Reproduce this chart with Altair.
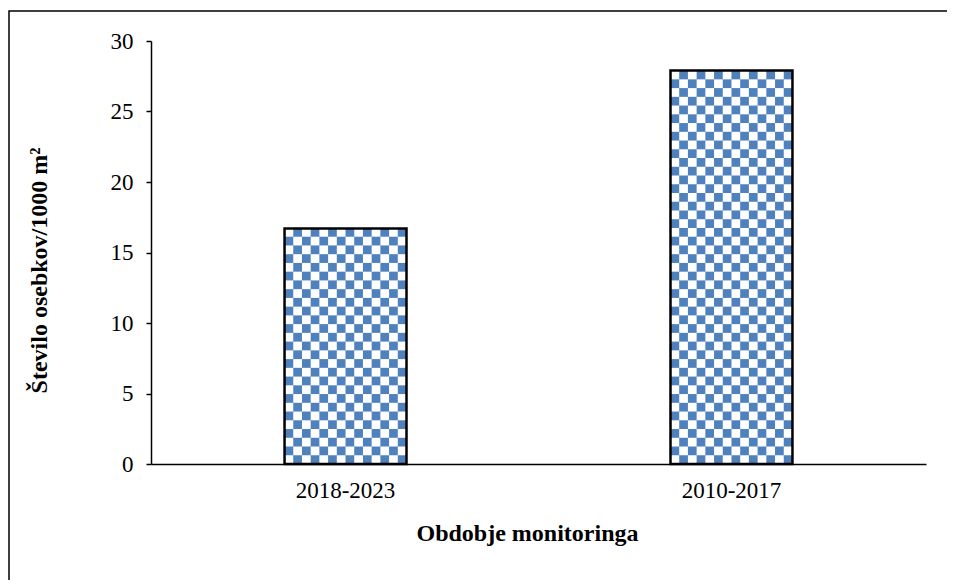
import math
import altair as alt
import pandas as pd

# ---- data ----
categories = ["2018-2023", "2010-2017"]
values = [16.7, 27.9]
y_ticks = [0, 5, 10, 15, 20, 25, 30]

x_title = "Obdobje monitoringa"
y_title = "Število osebkov/1000 m²"

FONT = "Liberation Serif"
BLUE = "#4F81BD"

bars = pd.DataFrame({"obdobje": categories, "stevilo": values})

# checkerboard fill pattern (white squares over the blue bar)
n_cols = 14
cell_h = 0.62
cell_rows = []
for cat, v in zip(categories, values):
    nrows = int(math.ceil(v / cell_h))
    for r in range(nrows):
        for c in range(n_cols):
            if (r + c) % 2 == 0:
                cell_rows.append({
                    "obdobje": cat,
                    "col": c,
                    "stevilo": r * cell_h,
                    "y1": min((r + 1) * cell_h, v),
                })
cells = pd.DataFrame(cell_rows)

x_scale = alt.Scale(paddingInner=0.684, paddingOuter=0.346)
y_scale = alt.Scale(domain=[0, 30], nice=False)

x_axis = alt.Axis(
    title=x_title,
    labelAngle=0,
    ticks=False,
    labelPadding=15,
    titleX=376,
    titleY=69,
    titleBaseline="middle",
    titleAlign="center",
)
y_axis = alt.Axis(
    title=y_title,
    values=y_ticks,
    grid=False,
    labelPadding=13,
    titleX=-112,
    titleY=229,
    titleAngle=270,
    titleBaseline="middle",
    titleAlign="center",
)

X = alt.X("obdobje:N", sort=categories, scale=x_scale, axis=x_axis)
Y = alt.Y("stevilo:Q", scale=y_scale, axis=y_axis)

base_bars = alt.Chart(bars).mark_bar(color=BLUE).encode(x=X, y=Y)

pattern = alt.Chart(cells).mark_rect(color="white").encode(
    x=X,
    xOffset=alt.XOffset("col:O", scale=alt.Scale(paddingInner=0, paddingOuter=0)),
    y=Y,
    y2="y1:Q",
)

outline = alt.Chart(bars).mark_bar(
    fillOpacity=0, stroke="black", strokeWidth=2.5
).encode(x=X, y=Y)

border = alt.Chart(pd.DataFrame({"a": [0]})).mark_rect(
    fill="white", fillOpacity=0, stroke="black", strokeWidth=1.5
).encode(
    x=alt.value(-142),
    x2=alt.value(900),
    y=alt.value(-30),
    y2=alt.value(700),
)

chart = alt.layer(base_bars, pattern, outline, border).properties(
    width=775,
    height=423,
    autosize=alt.AutoSizeParams(type="none"),
    padding={"left": 143, "top": 33, "right": 21, "bottom": 116},
).configure_view(
    strokeWidth=0
).configure_axis(
    domainColor="black",
    domainWidth=1.5,
    tickColor="black",
    tickWidth=1.5,
    tickSize=5,
    labelFont=FONT,
    labelFontSize=23,
    labelColor="black",
    titleFont=FONT,
    titleFontSize=24,
    titleFontWeight="bold",
    titleColor="black",
)

chart.save("out.html", embed_options={"renderer": "svg", "actions": False})
